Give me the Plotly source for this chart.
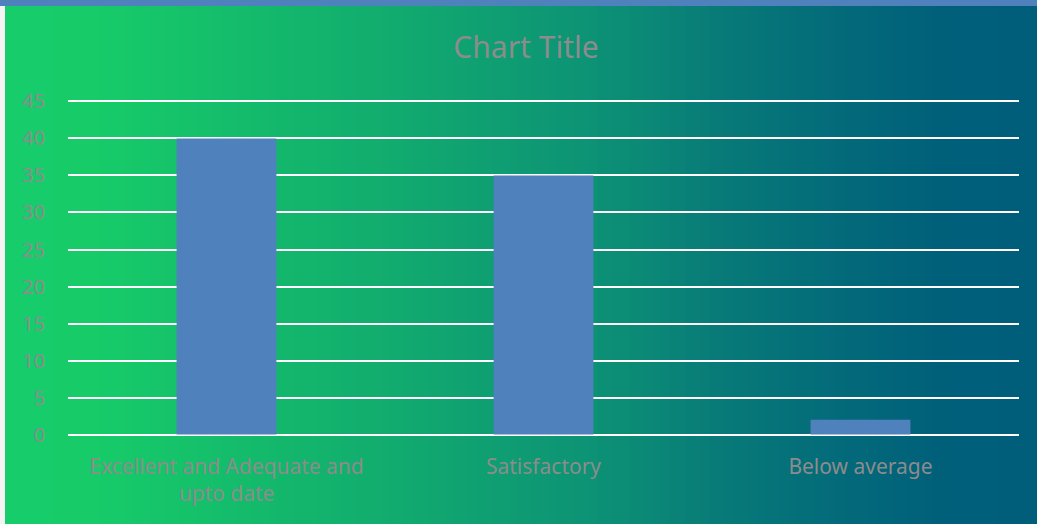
import numpy as np
import plotly.graph_objects as go

categories = ["Excellent and Adequate and<br>upto date", "Satisfactory", "Below average"]
values = [40, 35, 2]
tick_vals = [0, 5, 10, 15, 20, 25, 30, 35, 40, 45]

W, H = 1037, 524
L, R, T, B = 68, 18, 100, 88
pw = W - L - R
ph = H - T - B

# background gradient (green -> dark teal), as thin strips
stops_px = [5, 100, 300, 420, 620, 720, 840, 950, 1037]
stops_rgb = [(23, 204, 106), (23, 203, 105), (19, 181, 108), (17, 168, 112),
             (12, 142, 118), (8, 122, 120), (3, 106, 122), (0, 95, 122), (0, 94, 122)]
stops_rgb = np.array(stops_rgb, dtype=float)

def px2x(px):
    return (px - L) / pw

def py2y(py):
    return (H - B - py) / ph

shapes = []
edges = np.arange(5, W + 1, 8)
for a, b in zip(edges[:-1], np.append(edges[1:-1], W)):
    mid = (a + b) / 2
    c = [np.interp(mid, stops_px, stops_rgb[:, k]) for k in range(3)]
    shapes.append(dict(type="rect", xref="paper", yref="paper", layer="below",
                       x0=px2x(a), x1=px2x(b + 1), y0=py2y(H), y1=py2y(0),
                       line=dict(width=0),
                       fillcolor="rgb(%d,%d,%d)" % tuple(int(round(v)) for v in c)))
# left white edge and top blue strip
shapes.append(dict(type="rect", xref="paper", yref="paper", layer="below",
                   x0=px2x(0), x1=px2x(5), y0=py2y(H), y1=py2y(0),
                   line=dict(width=0), fillcolor="#f4f4f4"))
shapes.append(dict(type="rect", xref="paper", yref="paper", layer="below",
                   x0=px2x(0), x1=px2x(W), y0=py2y(6), y1=py2y(0),
                   line=dict(width=0), fillcolor="#4f81bd"))

fig = go.Figure()
fig.add_trace(go.Bar(x=categories, y=values, marker_color="#4f81bd",
                     marker_line_width=0, width=0.315))

fig.update_layout(
    width=W, height=H,
    margin=dict(l=L, r=R, t=T, b=B),
    paper_bgcolor="#17cc6a",
    plot_bgcolor="rgba(0,0,0,0)",
    shapes=shapes,
    showlegend=False,
    font=dict(family="Noto Sans", color="#8c8c8c"),
    title=dict(text="Chart Title", x=526 / W, xanchor="center", xref="container",
               y=1 - 47 / H, yanchor="middle", yref="container",
               font=dict(size=30, color="#8c8c8c", family="Noto Sans")),
)
fig.update_yaxes(range=[-0.2, 45.2], tickvals=tick_vals, showgrid=True,
                 gridcolor="white", gridwidth=1.6, zeroline=True,
                 zerolinecolor="white", zerolinewidth=1.6, showline=False,
                 ticks="", ticklabelstandoff=22,
                 tickfont=dict(size=20, color="#8c8c8c"))
fig.update_xaxes(showgrid=False, showline=False, ticks="",
                 ticklabelstandoff=16,
                 tickfont=dict(size=21, color="#8c8c8c"))

fig.write_html("out.html", config={"displayModeBar": False},
               post_script="document.body.style.margin='0';document.body.style.overflow='hidden';")
